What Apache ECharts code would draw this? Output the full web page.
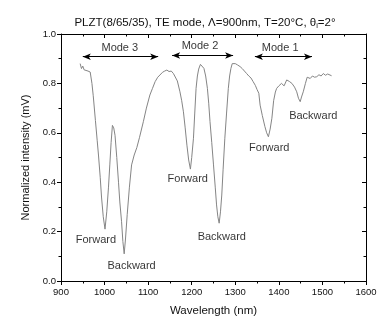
<!DOCTYPE html>
<html>
<head>
<meta charset="utf-8">
<script src="https://cdn.jsdelivr.net/npm/echarts@6/dist/echarts.min.js"></script>
<style>html,body{margin:0;padding:0;background:#fff}#c{width:390px;height:330px}</style>
</head>
<body>
<div id="c"></div>
<script>
var wavelength = [944,947,950,953,957,962,967,971,974,979,983,986,990,993,997,1001,1005,1009,1012,1015,1018,1021,1024,1028,1032,1035,1039,1042,1045,1048,1052,1057,1062,1068,1074,1080,1089,1096,1104,1110,1116,1122,1127,1133,1138,1143,1148,1153,1158,1162,1167,1173,1177,1181,1185,1189,1193,1197,1200,1204,1207,1210,1213,1216,1220,1224,1228,1232,1236,1239,1242,1246,1250,1254,1257,1260,1263,1266,1269,1272,1276,1280,1284,1287,1290,1293,1296,1300,1305,1311,1316,1321,1326,1331,1336,1341,1346,1350,1354,1357,1362,1368,1372,1376,1380,1384,1388,1392,1395,1400,1406,1412,1418,1424,1430,1436,1441,1445,1449,1452,1456,1461,1465,1468,1472,1477,1482,1487,1492,1497,1502,1507,1512,1516,1521];
var intensity = [0.88,0.86,0.87,0.855,0.86,0.85,0.846,0.80,0.75,0.65,0.57,0.51,0.42,0.34,0.26,0.21,0.28,0.38,0.47,0.56,0.63,0.62,0.59,0.50,0.40,0.32,0.24,0.16,0.11,0.17,0.27,0.38,0.47,0.51,0.54,0.58,0.645,0.70,0.753,0.78,0.807,0.825,0.834,0.845,0.85,0.854,0.848,0.85,0.84,0.834,0.81,0.766,0.73,0.685,0.62,0.55,0.49,0.453,0.50,0.578,0.68,0.78,0.83,0.858,0.877,0.872,0.861,0.83,0.78,0.72,0.645,0.56,0.47,0.38,0.308,0.26,0.234,0.28,0.348,0.45,0.578,0.68,0.78,0.83,0.861,0.88,0.888,0.88,0.875,0.868,0.86,0.85,0.84,0.83,0.822,0.807,0.792,0.775,0.76,0.712,0.67,0.625,0.60,0.584,0.615,0.659,0.73,0.765,0.78,0.79,0.80,0.79,0.814,0.808,0.80,0.785,0.766,0.74,0.726,0.745,0.766,0.80,0.825,0.827,0.82,0.83,0.825,0.827,0.835,0.83,0.84,0.833,0.838,0.83,0.831];

var xTicks = [900,1000,1100,1200,1300,1400,1500,1600];
var yTicks = [0.0,0.2,0.4,0.6,0.8,1.0];

var annoText = ['Forward','Backward','Forward','Backward','Forward','Backward','Mode 3','Mode 2','Mode 1'];
var annoX = [980,1062,1191,1269,1378,1479,1035,1219,1403];
var annoY = [0.17,0.061,0.417,0.179,0.541,0.671,0.947,0.953,0.947];

var arrowStart = [950,1155,1345];
var arrowEnd = [1123,1295,1476];
var arrowY = [0.908,0.913,0.908];

var FONT = 'Arial, "Liberation Sans", sans-serif';
var chart = echarts.init(document.getElementById('c'), null, {renderer:'canvas'});

var curve = wavelength.map(function(w,i){return [w,intensity[i]];});
var annos = annoText.map(function(t,i){return {name:t,value:[annoX[i],annoY[i]]};});
var arrows = arrowStart.map(function(s,i){return [{coord:[s,arrowY[i]]},{coord:[arrowEnd[i],arrowY[i]]}];});

function mainAxisCommon(){
  return {
    axisLine:{show:true,onZero:false,lineStyle:{color:'#000',width:1}},
    axisTick:{show:true,inside:false,length:4,lineStyle:{color:'#000'}},
    minorTick:{show:true,splitNumber:2,length:2.5,lineStyle:{color:'#000'}},
    splitLine:{show:false},
    axisLabel:{fontFamily:FONT,fontSize:9.5,color:'#111'}
  };
}

var xMain = mainAxisCommon();
Object.assign(xMain,{type:'value',position:'bottom',min:xTicks[0],max:xTicks[xTicks.length-1],interval:100,
  name:'Wavelength (nm)',nameLocation:'middle',nameGap:24,
  nameTextStyle:{fontFamily:FONT,fontSize:11.5,color:'#111'}});
xMain.axisLabel.margin = 6;
xMain.axisLabel.formatter = function(v){return String(v);};

var yMain = mainAxisCommon();
Object.assign(yMain,{type:'value',position:'left',min:yTicks[0],max:yTicks[yTicks.length-1],interval:0.2,
  name:'Normalized intensity (mV)',nameLocation:'middle',nameGap:28,
  nameTextStyle:{fontFamily:FONT,fontSize:11,color:'#111'}});
yMain.axisLabel.formatter = function(v){return v.toFixed(1);};
yMain.axisLabel.margin = 5;

function mirror(base, pos){
  return {type:'value',position:pos,min:base.min,max:base.max,interval:base.interval,
    axisLine:{show:true,onZero:false,lineStyle:{color:'#000',width:1}},
    axisTick:{show:true,inside:true,length:4,lineStyle:{color:'#000'}},
    minorTick:{show:true,splitNumber:2,length:2.5,lineStyle:{color:'#000'}},
    splitLine:{show:false},axisLabel:{show:false}};
}

var option = {
  backgroundColor:'#fff',
  animation:false,
  title:{
    text:'PLZT(8/65/35), TE mode, \u039B=900nm, T=20\u00B0C, \u03B8{sub|i}=2\u00B0',
    left:200, top:11, textAlign:'center',
    textStyle:{fontFamily:FONT,fontSize:11.5,fontWeight:'normal',color:'#111',
      rich:{sub:{fontFamily:FONT,fontSize:7.5,color:'#111',verticalAlign:'bottom',padding:[6,0,0,0]}}}
  },
  grid:{left:61,right:24,top:34,bottom:49,containLabel:false},
  xAxis:[xMain, mirror(xMain,'top')],
  yAxis:[yMain, mirror(yMain,'right')],
  series:[
    {type:'line',data:curve,showSymbol:false,symbol:'none',
     lineStyle:{color:'#858585',width:1},
     markLine:{silent:true,symbol:['arrow','arrow'],symbolSize:[5,8],
       lineStyle:{color:'#000',width:1,type:'solid'},label:{show:false},data:arrows}},
    {type:'scatter',data:annos,symbolSize:0,silent:true,
     label:{show:true,position:'top',distance:-6,formatter:function(p){return p.name;},
       fontFamily:FONT,fontSize:11,color:'#000',textBorderWidth:0}}
  ]
};
chart.setOption(option);
</script>
</body>
</html>
